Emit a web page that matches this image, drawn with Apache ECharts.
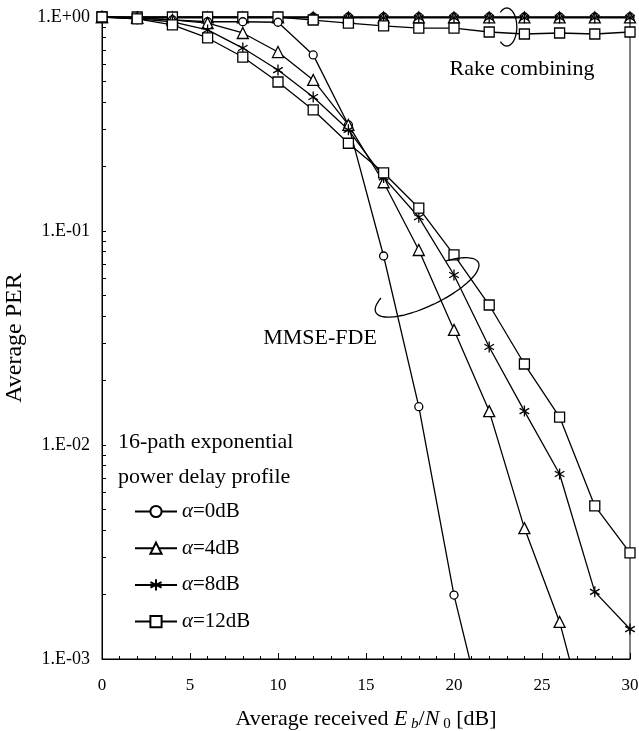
<!DOCTYPE html>
<html>
<head>
<meta charset="utf-8">
<script src="https://cdn.jsdelivr.net/npm/echarts@6/dist/echarts.min.js"></script>
<style>
  html, body { margin: 0; padding: 0; background: #fff; }
  #chart { width: 639px; height: 731px; }
</style>
</head>
<body>
<div id="chart"></div>
<script>
// Eb/N0 points (dB)
const ebno = [0, 2, 4, 6, 8, 10, 12, 14, 16, 18, 20, 22, 24, 26, 28, 30];

// MMSE-FDE, average PER per alpha
const mmse0 = [1, 0.99, 0.97, 0.95, 0.95, 0.945, 0.665, 0.313, 0.0764, 0.0151, 0.00199, 0.00042];
const mmse4 = [1, 0.99, 0.97, 0.937, 0.842, 0.686, 0.508, 0.313, 0.169, 0.0815, 0.0345, 0.0144, 0.00409, 0.00149, 0.00036];
const mmse8 = [1, 0.98, 0.95, 0.87, 0.716, 0.565, 0.423, 0.297, 0.178, 0.116, 0.0623, 0.0287, 0.0144, 0.00732, 0.00206, 0.00138];
const mmse12 = [1, 0.98, 0.918, 0.798, 0.65, 0.497, 0.368, 0.257, 0.187, 0.128, 0.0774, 0.0451, 0.0239, 0.0135, 0.00519, 0.00313];

// Rake combining
const rake0 = [1, 1, 1, 1, 1, 1, 1, 1, 1, 1, 1, 1, 1, 1, 1, 1];
const rake4 = [1, 0.995, 0.995, 0.995, 0.995, 0.995, 0.995, 0.995, 0.995, 0.995, 0.995, 0.995, 0.995, 0.995, 0.995, 0.995];
const rake8 = [1, 0.99, 0.99, 0.99, 0.99, 0.99, 0.99, 0.99, 0.99, 0.99, 0.99, 0.99, 0.99, 0.99, 0.99, 0.99];
const rake12 = [1, 1, 1, 1, 1, 1, 0.968, 0.937, 0.908, 0.888, 0.888, 0.851, 0.833, 0.842, 0.833, 0.851];

const alphas = ['0', '4', '8', '12'];
const yDecades = [0.001, 0.01, 0.1, 1];

const FONT = '"Liberation Serif", "DejaVu Serif", serif';
const starPath = 'path://M0,-10L0,10M-8.7,-5L8.7,5M-8.7,5L8.7,-5';
const symbols = ['circle', 'triangle', starPath, 'rect'];
const symbolSizes = [8, 11, 11, 10];

const pairs = arr => arr.map((v, i) => [ebno[i], v]);

// minor ticks at 2..9 of each decade
const yTickValues = [];
yDecades.forEach((d, k) => {
    if (k === yDecades.length - 1) { yTickValues.push(d); return; }
    for (let m = 1; m < 10; m++) yTickValues.push(+(m * d).toPrecision(3));
});

const makeSeries = (name, arr, idx) => ({
    name: name,
    type: 'line',
    data: pairs(arr),
    symbol: symbols[idx],
    symbolSize: symbolSizes[idx],
    symbolKeepAspect: true,
    showAllSymbol: true,
    clip: true,
    lineStyle: { color: '#000', width: 1.3 },
    itemStyle: { color: idx === 2 ? '#000' : '#fff', borderColor: '#000', borderWidth: 1.3 },
    emphasis: { disabled: true }
});

const mmse = [mmse0, mmse4, mmse8, mmse12];
const rake = [rake0, rake4, rake8, rake12];
const series = [];
rake.forEach((arr, i) => series.push(makeSeries('rake' + alphas[i], arr, i)));
mmse.forEach((arr, i) => series.push(makeSeries('a' + alphas[i], arr, i)));

const chart = echarts.init(document.getElementById('chart'), null, { renderer: 'canvas' });

const option = {
    animation: false,
    backgroundColor: '#fff',
    textStyle: { fontFamily: FONT, color: '#000' },
    grid: {
        left: 102, right: 9, top: 17, bottom: 72,
        outerBoundsMode: 'none', containLabel: false,
        show: true, borderColor: '#000', borderWidth: 1
    },
    legend: {
        data: alphas.map(a => 'a' + a),
        orient: 'vertical',
        left: 134,
        top: 501,
        padding: 0,
        itemWidth: 42,
        itemHeight: 14,
        itemGap: 15.7,
        inactiveColor: '#000',
        selectedMode: false,
        formatter: name => '{i|α}=' + name.slice(1) + 'dB',
        textStyle: {
            fontFamily: FONT, fontSize: 21, color: '#000',
            rich: { i: { fontFamily: FONT, fontSize: 21, fontStyle: 'italic', color: '#000' } }
        }
    },
    xAxis: {
        type: 'value',
        min: 0,
        max: 30,
        interval: 5,
        name: 'Average received {i|E}{sb| b}{n|/}{i|N}{s0| 0} {n|[dB]}',
        nameLocation: 'middle',
        nameGap: 47,
        nameTextStyle: {
            fontFamily: FONT, fontSize: 22, color: '#000', lineHeight: 26,
            rich: {
                i: { fontFamily: FONT, fontSize: 22, fontStyle: 'italic', lineHeight: 26 },
                n: { fontFamily: FONT, fontSize: 22, lineHeight: 26 },
                sb: { fontFamily: FONT, fontSize: 15, fontStyle: 'italic', lineHeight: 26, verticalAlign: 'bottom' },
                s0: { fontFamily: FONT, fontSize: 15, lineHeight: 26, verticalAlign: 'bottom' }
            }
        },
        axisLine: { show: true, lineStyle: { color: '#000', width: 1 } },
        axisTick: { show: true, inside: true, length: 6, lineStyle: { color: '#000' } },
        minorTick: { show: true, splitNumber: 5, length: 3, lineStyle: { color: '#000' } },
        axisLabel: { fontFamily: FONT, fontSize: 17, color: '#000', margin: 18 },
        splitLine: { show: false },
        minorSplitLine: { show: false }
    },
    yAxis: {
        type: 'log',
        logBase: 10,
        min: 0.001,
        max: 1,
        name: 'Average PER',
        nameLocation: 'middle',
        nameRotate: 90,
        nameGap: 74,
        nameTextStyle: { fontFamily: FONT, fontSize: 24, color: '#000' },
        axisLine: { show: true, lineStyle: { color: '#000', width: 1 } },
        axisTick: { show: true, inside: true, length: 4, customValues: yTickValues, lineStyle: { color: '#000' } },
        axisLabel: {
            fontFamily: FONT, fontSize: 18, color: '#000', margin: 12,
            customValues: yDecades,
            formatter: v => {
                const e = Math.round(Math.log10(v));
                return '1.E' + (e < 0 ? '-' : '+') + String(Math.abs(e)).padStart(2, '0');
            }
        },
        splitLine: { show: false }
    },
    series: series
};

chart.setOption(option);

// annotations: labels and the ellipse marks, anchored in data space
const ellipse = (c, a, b, rot, t0, t1) => {
    const pts = [];
    const cr = Math.cos(rot), sr = Math.sin(rot);
    for (let t = t0; t <= t1 + 0.01; t += 4) {
        const r = t * Math.PI / 180;
        const ex = a * Math.cos(r), ey = b * Math.sin(r);
        pts.push([c[0] + ex * cr - ey * sr, c[1] + ex * sr + ey * cr]);
    }
    return pts;
};

const rakeC = chart.convertToPixel({ gridIndex: 0 }, [23.0, 0.898]);
const mmseC = chart.convertToPixel({ gridIndex: 0 }, [18.47, 0.0545]);

const label = (text, x, y, align) => ({
    type: 'text', x: x, y: y, z: 10,
    style: { text: text, font: '22px ' + FONT, fill: '#000', align: align, verticalAlign: 'middle' }
});

chart.setOption({
    graphic: [
        { type: 'polyline', shape: { points: ellipse(rakeC, 10, 19, 0, -130, 130), smooth: 0.3 },
          style: { stroke: '#000', lineWidth: 1.3, fill: null }, z: 10 },
        { type: 'polyline', shape: { points: ellipse(mmseC, 57, 18, -25.9 * Math.PI / 180, -60, 218), smooth: 0.3 },
          style: { stroke: '#000', lineWidth: 1.3, fill: null }, z: 10 },
        label('Rake combining', 522, 69, 'center'),
        label('MMSE-FDE', 320, 338, 'center'),
        label('16-path exponential', 118, 442, 'left'),
        label('power delay profile', 118, 477, 'left')
    ]
});

window.addEventListener('resize', () => chart.resize());
</script>
</body>
</html>
